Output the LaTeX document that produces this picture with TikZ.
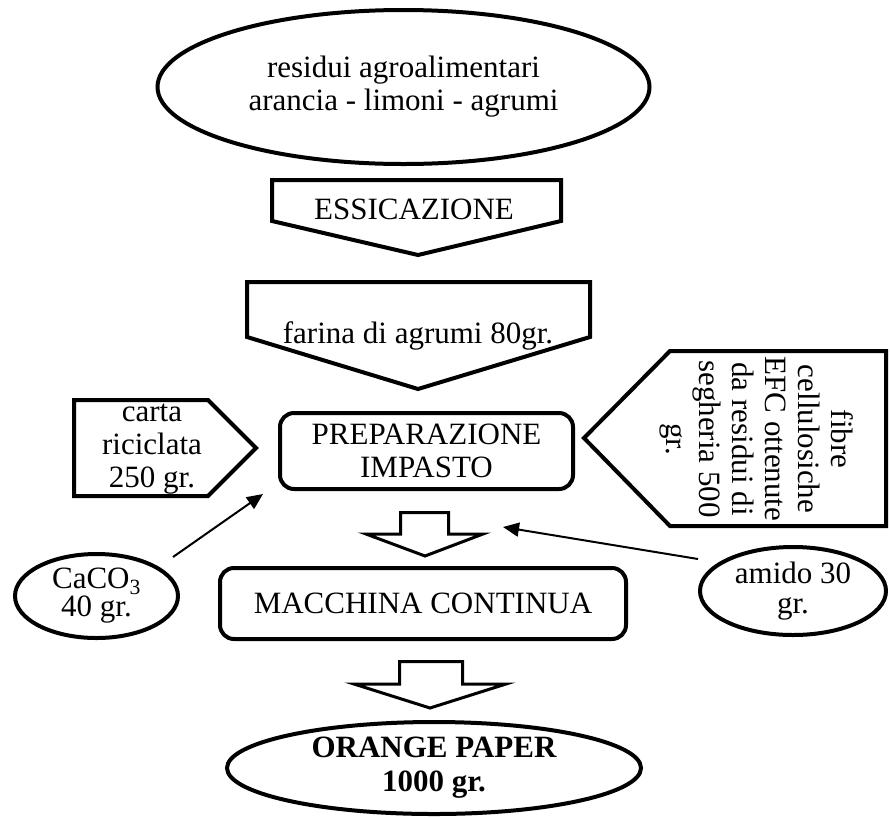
\documentclass[tikz,border=0pt]{standalone}
\usepackage{fontspec}
\setmainfont{Liberation Serif}
\usetikzlibrary{arrows.meta,shapes.geometric}
\begin{document}
\begin{tikzpicture}[x=1pt,y=-1pt,
  txt/.style={font=\fontsize{31}{33}\selectfont, align=center, inner sep=0pt},
  outline/.style={draw=black, line width=4pt, line join=miter},
  roundbox/.style={outline, rounded corners=14pt, rectangle, txt},
  oval/.style={outline, ellipse, inner sep=0pt, txt},
  blockarrow/.style={draw=black, line width=3pt, line join=miter, fill=white},
  thinarrow/.style={draw=black, line width=2pt, -{Triangle[length=16pt,width=14pt]}}
]
\useasboundingbox (0,0) rectangle (890,817);

% source material
\node[oval, minimum width=492pt, minimum height=154pt] (src) at (403.5,87)
  {residui agroalimentari\\arancia - limoni - agrumi};

% drying step (downward pentagon)
\draw[outline] (272,180) -- (561,180) -- (561,221) -- (418,255) -- (272,221) -- cycle;
\node[txt, anchor=base] (dry) at (414,219) {ESSICAZIONE};

% citrus flour (downward pentagon)
\draw[outline] (247,282) -- (590,282) -- (590,337) -- (418,389) -- (247,337) -- cycle;
\node[txt, anchor=base] (flour) at (418,343) {farina di agrumi 80gr.};

% recycled paper (right-pointing pentagon)
\draw[outline] (74,400) -- (208,400) -- (256,448) -- (208,496) -- (74,496) -- cycle;
\node[txt] (paper) at (152,449) {carta\\riciclata\\250 gr.};

% cellulose fibres (left-pointing pentagon, vertical text)
\draw[outline] (584,438) -- (670,351) -- (886,351) -- (886,526) -- (670,526) -- cycle;
\node[txt, rotate=-90] (fibre) at (757,439)
  {fibre\\cellulosiche\\EFC ottenute\\da residui di\\segheria 500\\gr.};

% mixing
\node[roundbox, minimum width=293pt, minimum height=76pt] (prep) at (426.5,451)
  {PREPARAZIONE\\IMPASTO};

% hollow arrow towards the paper machine
\draw[blockarrow] (400.5,512.5) -- (448.5,512.5) -- (448.5,534) -- (483,534)
  -- (425,556) -- (366,534) -- (400.5,534) -- cycle;

% paper machine
\node[roundbox, minimum width=406pt, minimum height=71pt] (mach) at (423,603.5)
  {MACCHINA CONTINUA};

% hollow arrow towards the product
\draw[blockarrow] (399.5,661.5) -- (462.5,661.5) -- (462.5,684) -- (506,684)
  -- (430,708) -- (354,684) -- (399.5,684) -- cycle;

% final product
\node[oval, minimum width=414pt, minimum height=92pt,
  font=\fontsize{31}{34}\selectfont\bfseries] (prod) at (434,768)
  {ORANGE PAPER\\1000 gr.};

% additives
\node[oval, minimum width=163pt, minimum height=84pt,
  font=\fontsize{31}{28}\selectfont] (caco) at (96.5,596)
  {CaCO\textsubscript{3}\\40 gr.};
\node[oval, minimum width=186pt, minimum height=88pt,
  font=\fontsize{31}{30}\selectfont] (amido) at (793,591)
  {amido 30\\gr.};

% additive feed arrows
\coordinate (caco tail) at (173,557);
\coordinate (caco head) at (263,494);
\coordinate (amido tail) at (698,559);
\coordinate (amido head) at (503,527);
\draw[thinarrow] (caco tail) -- (caco head);
\draw[thinarrow] (amido tail) -- (amido head);
\end{tikzpicture}
\end{document}
